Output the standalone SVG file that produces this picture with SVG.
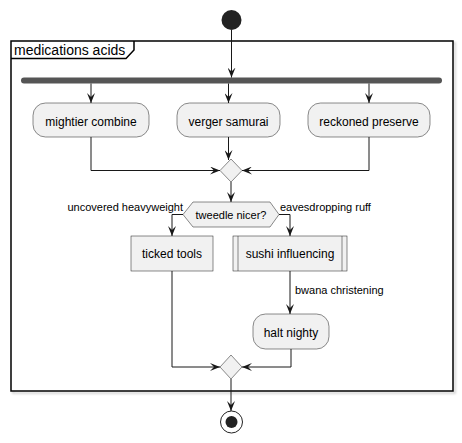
<svg xmlns="http://www.w3.org/2000/svg" width="462" height="443" viewBox="0 0 462 443">
<defs>
<marker id="ah" viewBox="0 0 10 8" refX="10" refY="4" markerWidth="10" markerHeight="8" markerUnits="userSpaceOnUse" orient="auto">
<path d="M0,0 L10,4 L0,8 L4,4 Z" fill="#181818"/>
</marker>
<filter id="sh" x="-5%" y="-5%" width="110%" height="110%">
<feGaussianBlur stdDeviation="1"/>
</filter>
</defs>
<style>
text{font-family:"Liberation Sans",Arial,sans-serif;fill:#000}
.box{fill:#F1F1F1;stroke:#181818;stroke-width:0.5}
.t12{font-size:12px;text-anchor:middle}
.t11{font-size:11px}
.c{fill:none;stroke:#181818;stroke-width:1;marker-end:url(#ah)}
</style>
<rect width="462" height="443" fill="#FFFFFF"/>
<g id="frame">
<rect x="13" y="43" width="442" height="350" fill="none" stroke="#C8C8C8" stroke-width="1.5" filter="url(#sh)"/>
<rect x="11" y="41" width="442" height="350" fill="#FFFFFF" stroke="#000" stroke-width="1.5"/>
<path d="M11,58.5 L126,58.5 L134,50 L134,41" fill="none" stroke="#000" stroke-width="1.5"/>
<text x="14" y="55" style="font-size:14px">medications acids</text>
</g>
<g id="start"><circle cx="231.5" cy="20" r="10" fill="#222222"/></g>
<g id="fork"><rect x="21" y="77.5" width="421" height="6" rx="3" fill="#555555"/></g>
<g id="n_mightier"><rect class="box" x="33" y="103" width="116" height="34" rx="12.5"/><text class="t12" x="91" y="126">mightier combine</text></g>
<g id="n_verger"><rect class="box" x="177" y="103" width="103" height="34" rx="12.5"/><text class="t12" x="228.5" y="126">verger samurai</text></g>
<g id="n_reckoned"><rect class="box" x="308" y="103" width="122" height="34" rx="12.5"/><text class="t12" x="369" y="126">reckoned preserve</text></g>
<g id="merge1"><polygon class="box" points="231,159 242,170.5 231,182 220,170.5"/></g>
<g id="decision"><polygon class="box" points="183,214.5 193,202 270,202 279,214.5 270,227 193,227"/><text x="231" y="219" class="t11" text-anchor="middle">tweedle nicer?</text></g>
<g id="n_ticked"><rect class="box" x="131" y="236" width="82" height="35"/><text class="t12" x="172" y="258">ticked tools</text></g>
<g id="n_sushi"><rect class="box" x="233" y="236" width="114" height="35"/><line x1="238" y1="236" x2="238" y2="271" stroke="#181818" stroke-width="0.5"/><line x1="342" y1="236" x2="342" y2="271" stroke="#181818" stroke-width="0.5"/><text class="t12" x="290" y="258">sushi influencing</text></g>
<g id="n_halt"><rect class="box" x="253" y="314" width="76" height="35" rx="12.5"/><text class="t12" x="291" y="337">halt nighty</text></g>
<g id="merge2"><polygon class="box" points="231,355 242,367 231,379 220,367"/></g>
<g id="end"><circle cx="231.5" cy="422" r="11" fill="none" stroke="#222222" stroke-width="1"/><circle cx="231.5" cy="422" r="6" fill="#222222"/></g>
<g id="connectors">
<path class="c" d="M231.5,30 L231.5,77.5"/>
<path class="c" d="M91,83.5 L91,103"/>
<path class="c" d="M228.5,83.5 L228.5,103"/>
<path class="c" d="M369,83.5 L369,103"/>
<path class="c" d="M91,137 L91,170.5 L220,170.5"/>
<path class="c" d="M228.5,137 L228.5,160"/>
<path class="c" d="M369,137 L369,170.5 L242,170.5"/>
<path class="c" d="M231,182 L231,202"/>
<path class="c" d="M183,214.5 L172,214.5 L172,236"/>
<path class="c" d="M279,214.5 L290,214.5 L290,236"/>
<path class="c" d="M172,271 L172,367 L220,367"/>
<path class="c" d="M290,271 L290,314"/>
<path class="c" d="M291,349 L291,367 L242,367"/>
<path class="c" d="M231,379 L231,411"/>
<text class="t11" x="183" y="211" text-anchor="end">uncovered heavyweight</text>
<text class="t11" x="280" y="211">eavesdropping ruff</text>
<text class="t11" x="295" y="294">bwana christening</text>
</g>
</svg>
